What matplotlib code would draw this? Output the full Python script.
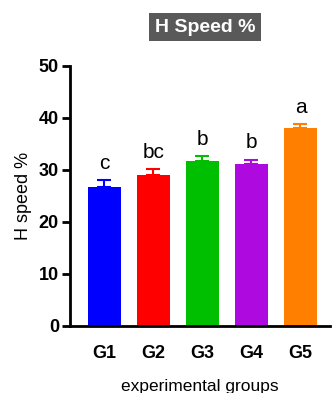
import matplotlib.pyplot as plt

plt.rcParams['font.family'] = ['Liberation Sans', 'DejaVu Sans']

groups = ["G1", "G2", "G3", "G4", "G5"]
means = [26.7, 29.0, 31.7, 31.2, 38.1]
errs = [1.3, 1.1, 0.9, 0.8, 0.7]
letters = ["c", "bc", "b", "b", "a"]
colors = ["#0000FF", "#FF0000", "#00BF00", "#AE0AE0", "#FF8000"]

fig = plt.figure(figsize=(3.34, 3.93), dpi=100)
ax = fig.add_axes([0.2096, 0.1705, 0.778, 0.6616])

x = list(range(len(groups)))
ax.bar(x, means, width=0.67, color=colors, zorder=2)
for i in x:
    ax.errorbar(i, means[i], yerr=[[0], [errs[i]]], color=colors[i],
                capsize=5, capthick=1.5, elinewidth=1.5, zorder=3)
    ax.text(i, means[i] + errs[i] + 1.4, letters[i], ha='center', va='bottom',
            fontsize=15)

ax.set_xlim(-0.7, 4.6)
ax.set_ylim(0, 50)
ax.set_yticks([0, 10, 20, 30, 40, 50])
ax.set_xticks(x)
ax.set_xticklabels(groups, fontweight='bold', fontsize=13)
for lbl in ax.get_yticklabels():
    lbl.set_fontweight('bold')
    lbl.set_fontsize(13)
ax.tick_params(axis='y', length=6, width=2, pad=2)
ax.tick_params(axis='x', length=0, pad=14)
for s in ['top', 'right']:
    ax.spines[s].set_visible(False)
ax.spines['left'].set_linewidth(2)
ax.spines['bottom'].set_linewidth(2)

ax.set_ylabel("H speed %", fontsize=13, labelpad=5)
ax.set_xlabel("experimental groups", fontsize=12.5, labelpad=12)

fig.text(0.614, 0.931, "H Speed %", ha='center', va='center', color='white',
         fontsize=14, fontweight='bold',
         bbox=dict(boxstyle='square,pad=0.3', fc='#595959', ec='none'))

fig.savefig("out.png", dpi=100)
